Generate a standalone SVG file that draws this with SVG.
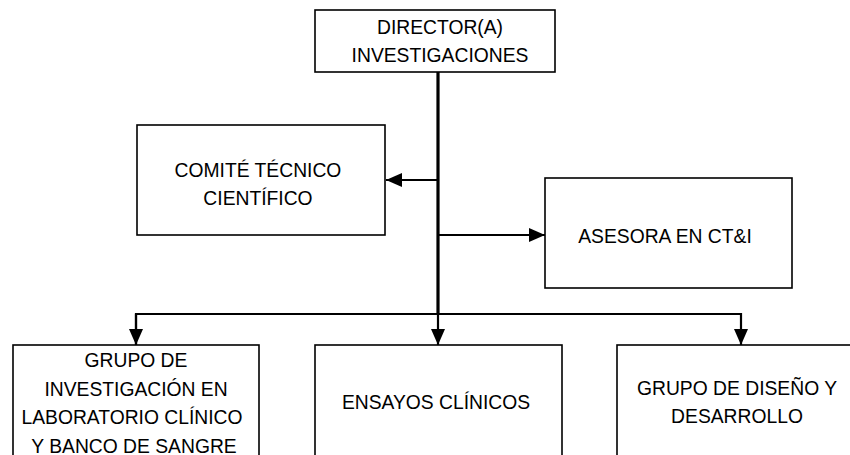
<svg xmlns="http://www.w3.org/2000/svg" width="850" height="455" viewBox="0 0 850 455">
<style>
.box{fill:#fff;stroke:#000;stroke-width:1.6}
.t{font-family:"Liberation Sans",Arial,sans-serif;font-size:19.3px;fill:#000;text-anchor:middle}
.c{fill:none;stroke:#000;stroke-width:2.2}
.m{fill:none;stroke:#000;stroke-width:3.2}
</style>
<defs>
<marker id="ah" markerWidth="16" markerHeight="14" refX="16" refY="7" orient="auto" markerUnits="userSpaceOnUse">
<path d="M0,0 L16,7 L0,14 Z" fill="#000"/>
</marker>
</defs>
<rect width="850" height="455" fill="#fff"/>
<g id="connectors">
<line class="m" x1="438" y1="72" x2="438" y2="314"/>
<line class="c" x1="438" y1="180" x2="386" y2="180" marker-end="url(#ah)"/>
<line class="c" x1="438" y1="235" x2="545" y2="235" marker-end="url(#ah)"/>
<polyline class="c" points="136,345 136,314 741,314 741,345" marker-end="url(#ah)"/>
<line class="c" x1="136" y1="314" x2="136" y2="345" marker-end="url(#ah)"/>
<line class="c" x1="438" y1="314" x2="438" y2="345" marker-end="url(#ah)"/>
</g>
<g id="director">
<rect class="box" x="315" y="10" width="240" height="62"/>
<text class="t" x="440" y="34">DIRECTOR(A)</text>
<text class="t" x="440" y="62">INVESTIGACIONES</text>
</g>
<g id="comite">
<rect class="box" x="137" y="125" width="248" height="110"/>
<text class="t" x="258" y="177">COMITÉ TÉCNICO</text>
<text class="t" x="258" y="205">CIENTÍFICO</text>
</g>
<g id="asesora">
<rect class="box" x="545" y="178" width="247" height="110"/>
<text class="t" x="665" y="243">ASESORA EN CT&amp;I</text>
</g>
<g id="grupo-investigacion">
<rect class="box" x="13" y="345" width="246" height="130"/>
<text class="t" x="136" y="367">GRUPO DE</text>
<text class="t" x="136" y="395.5">INVESTIGACIÓN EN</text>
<text class="t" x="132" y="424">LABORATORIO CLÍNICO</text>
<text class="t" x="134" y="452.5">Y BANCO DE SANGRE</text>
</g>
<g id="ensayos">
<rect class="box" x="315" y="345" width="247" height="130"/>
<text class="t" x="436" y="409">ENSAYOS CLÍNICOS</text>
</g>
<g id="grupo-diseno">
<rect class="box" x="617" y="345" width="250" height="130"/>
<text class="t" x="737" y="395">GRUPO DE DISEÑO Y</text>
<text class="t" x="737" y="423">DESARROLLO</text>
</g>
</svg>
